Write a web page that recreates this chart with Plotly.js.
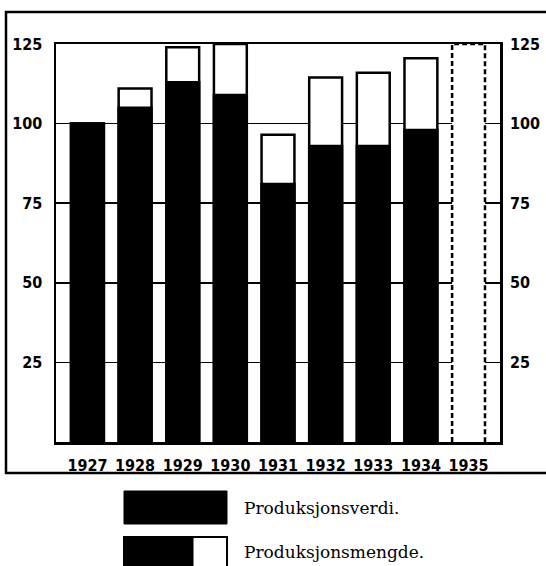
<!DOCTYPE html>
<html>
<head>
<meta charset="utf-8">
<script src="https://cdn.plot.ly/plotly-3.0.1.min.js"></script>
<style>html,body{margin:0;padding:0;background:#fff;}#chart{width:546px;height:566px;}</style>
</head>
<body>
<div id="chart"></div>
<script>
// Data (index numbers, 1927 = 100)
var years = ["1927", "1928", "1929", "1930", "1931", "1932", "1933", "1934", "1935"];
var mengde = [100, 111, 124, 125, 96.5, 114.5, 116, 120.5];   // Produksjonsmengde (black + white)
var verdi  = [100, 105, 113, 109, 81, 93, 93, 98];              // Produksjonsverdi (black)
var pending = [125];                                           // 1935: not yet known (dashed outline)
var yTicks = [25, 50, 75, 100, 125];
var legendLabels = ["Produksjonsverdi.", "Produksjonsmengde."];

var W = 546, H = 566;
var M = {l: 56, r: 46, t: 44, b: 124};
var pw = W - M.l - M.r, ph = H - M.t - M.b;
function px(x) { return (x - M.l) / pw; }
function py(y) { return (H - M.b - y) / ph; }

var idx = years.map(function (_, i) { return i; });
var barW = 0.69;
var known = idx.slice(0, mengde.length);
var pIdx = idx.slice(mengde.length);

var numFont = {family: "DejaVu Sans Condensed, DejaVu Sans, sans-serif", size: 16, color: "#000", weight: "bold"};

var traces = [
  {type: "bar", x: known, y: mengde, width: barW, marker: {color: "#fff", line: {color: "#000", width: 2.5}}, hoverinfo: "skip", showlegend: false},
  {type: "bar", x: known, y: verdi, width: barW, marker: {color: "#000", line: {color: "#000", width: 2.5}}, hoverinfo: "skip", showlegend: false},
  {type: "bar", x: pIdx, y: pending, width: barW, marker: {color: "#fff", line: {width: 0}}, hoverinfo: "skip", showlegend: false}
];
// dashed outline of the 1935 bar
pIdx.forEach(function (i, k) {
  traces.push({type: "scatter", mode: "lines",
    x: [i - barW / 2, i - barW / 2, i + barW / 2, i + barW / 2],
    y: [0, pending[k], pending[k], 0],
    line: {color: "#000", width: 2.5, dash: "5px,3px"}, hoverinfo: "skip", showlegend: false});
});
// invisible trace to carry the right axis
traces.push({type: "scatter", mode: "markers", x: [0], y: [0], yaxis: "y2", marker: {opacity: 0}, hoverinfo: "skip", showlegend: false});

var shapes = [
  // outer frame
  {type: "rect", xref: "paper", yref: "paper", x0: px(6), x1: px(549), y0: py(473), y1: py(12), line: {color: "#000", width: 2.5}, layer: "below"},
  // legend box 1 (all black)
  {type: "rect", xref: "paper", yref: "paper", x0: px(124), x1: px(227), y0: py(524), y1: py(491), fillcolor: "#000", line: {color: "#000", width: 1}},
  // legend box 2 (black + white)
  {type: "rect", xref: "paper", yref: "paper", x0: px(124), x1: px(227), y0: py(572), y1: py(537), fillcolor: "#fff", line: {color: "#000", width: 2}},
  {type: "rect", xref: "paper", yref: "paper", x0: px(124), x1: px(193), y0: py(572), y1: py(537), fillcolor: "#000", line: {color: "#000", width: 1}}
];

var legendFont = {family: "DejaVu Serif, Liberation Serif, serif", size: 17, color: "#000"};
var annotations = [
  {xref: "paper", yref: "paper", x: px(242), y: py(508), text: legendLabels[0], showarrow: false, xanchor: "left", yanchor: "middle", font: legendFont},
  {xref: "paper", yref: "paper", x: px(242), y: py(552), text: legendLabels[1], showarrow: false, xanchor: "left", yanchor: "middle", font: legendFont}
];

var layout = {
  width: W, height: H,
  margin: M,
  paper_bgcolor: "#fff", plot_bgcolor: "#fff",
  barmode: "overlay",
  showlegend: false,
  xaxis: {
    range: [-0.66, idx.length - 1 + 0.66],
    tickmode: "array", tickvals: idx, ticktext: years,
    showgrid: false, zeroline: false,
    showline: true, linecolor: "#000", linewidth: 2.5, mirror: true,
    ticks: "", tickfont: numFont, ticklabelstandoff: 7, fixedrange: true
  },
  yaxis: {
    range: [0, 125],
    tickmode: "array", tickvals: yTicks, ticktext: yTicks.map(String),
    showgrid: true, gridcolor: "#000", gridwidth: 1.5,
    zeroline: false,
    showline: true, linecolor: "#000", linewidth: 2.5, mirror: true,
    ticks: "", tickfont: numFont, ticklabelstandoff: 8, fixedrange: true
  },
  yaxis2: {
    overlaying: "y", side: "right", range: [0, 125],
    tickmode: "array", tickvals: yTicks, ticktext: yTicks.map(String),
    showgrid: false, zeroline: false, showline: false,
    ticks: "", tickfont: numFont, ticklabelstandoff: 9, fixedrange: true
  },
  shapes: shapes,
  annotations: annotations
};

Plotly.newPlot("chart", traces, layout, {staticPlot: true, displayModeBar: false});
</script>
</body>
</html>
